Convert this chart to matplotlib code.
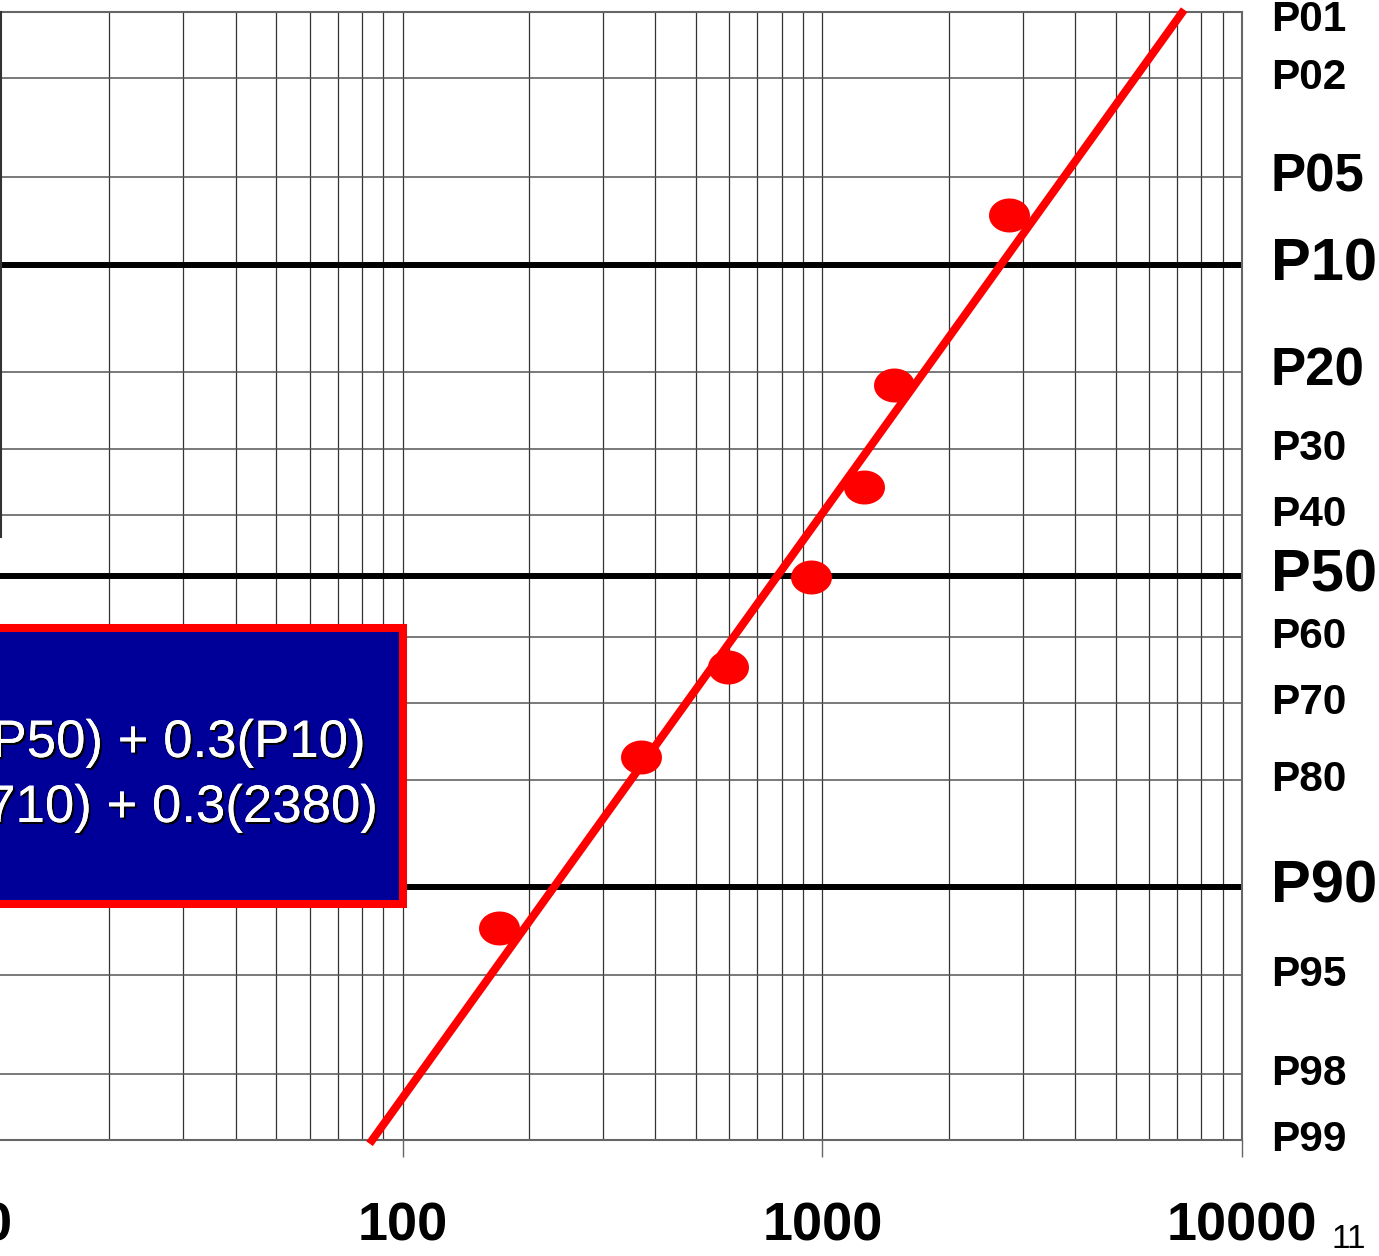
import matplotlib
matplotlib.use('Agg')
import matplotlib.pyplot as plt
import matplotlib.patches as patches
import matplotlib.patheffects as pe
from matplotlib.path import Path
from statistics import NormalDist
import numpy as np

plt.rcParams['font.family'] = ['Liberation Sans', 'DejaVu Sans']

# data
pt_prob = [6.8, 21.6, 35.7, 50.2, 64.6, 77.2, 92.7]
pt_value = [2790, 1480, 1260, 940, 595, 370, 170]
fit_prob = [99.04, 0.975]
fit_value = [83.4, 7280]

levels = [1, 2, 5, 10, 20, 30, 40, 50, 60, 70, 80, 90, 95, 98, 99]
level_labels = ['P01', 'P02', 'P05', 'P10', 'P20', 'P30', 'P40', 'P50',
                'P60', 'P70', 'P80', 'P90', 'P95', 'P98', 'P99']
thick_levels = [10, 50, 90]
medium_levels = [5, 20]
x_major = [10, 100, 1000, 10000]

box_lines = ['Mean = 0.3(P90) + 0.4(P50) + 0.3(P10)',
             'Mean = 0.3(150) + 0.4(710) + 0.3(2380)']

nd = NormalDist()

def z(p):
    return nd.inv_cdf(1 - p / 100.0)

def zs(ps):
    return [z(p) for p in ps]

W, H = 1379, 1256
fig = plt.figure(figsize=(W / 100, H / 100), dpi=100)
ax = fig.add_axes([-17 / W, 116 / H, 1259 / W, 1128 / H])
ax.set_xscale('log')
ax.set_xlim(10, 10000)
ax.set_ylim(z(99), z(1))

# vertical grid
for dec in [10, 100, 1000]:
    for k in range(1, 10):
        ax.axvline(dec * k, color='#333333', lw=0.9, zorder=1)

# horizontal grid
for lv in levels:
    if lv in thick_levels:
        ax.axhline(z(lv), color='black', lw=4.3, zorder=2, solid_capstyle='butt')
    else:
        ax.axhline(z(lv), color='#555555', lw=1.1, zorder=1)

# right labels
for lv, lab in zip(levels, level_labels):
    if lv in thick_levels:
        fs = 43
    elif lv in medium_levels:
        fs = 38
    else:
        fs = 30.5
    off = -8 if lv == 1 else 0
    ax.annotate(lab, xy=(1.0230, z(lv)), xycoords=('axes fraction', 'data'),
                xytext=(0, off), textcoords='offset pixels',
                ha='left', va='center', fontsize=fs, fontweight='bold',
                annotation_clip=False)

# fitted line and points
ax.plot(fit_value, zs(fit_prob), color='red', lw=5.8, zorder=4, clip_on=False,
        solid_capstyle='butt')
t = np.linspace(0, 2 * np.pi, 60)
ell = Path(np.column_stack([np.cos(t), 0.83 * np.sin(t)]), closed=True)
ax.plot(pt_value, zs(pt_prob), linestyle='none', marker=ell, markersize=29.5,
        color='red', markeredgewidth=0, zorder=5)

# box
box = patches.Rectangle((-0.1, 0.2092), 0.4336, 0.2447, transform=ax.transAxes,
                        facecolor='#000099', edgecolor='red', lw=5.8,
                        zorder=6, clip_on=False)
ax.add_patch(box)
shadow = [pe.withSimplePatchShadow(offset=(1.5, -1.5), shadow_rgbFace='black', alpha=1),
          pe.Normal()]
ax.text((365 + 17) / 1259, (1140 - 757) / 1128, box_lines[0], transform=ax.transAxes,
        ha='right', va='baseline', fontsize=38, color='white', zorder=7,
        path_effects=shadow)
ax.text((377 + 17) / 1259, (1140 - 822) / 1128, box_lines[1], transform=ax.transAxes,
        ha='right', va='baseline', fontsize=38, color='white', zorder=7,
        path_effects=shadow)

# axes styling
ax.set_xticks(x_major)
ax.set_xticklabels([str(v) for v in x_major], fontsize=39, fontweight='bold')
ax.xaxis.set_minor_locator(matplotlib.ticker.NullLocator())
ax.tick_params(axis='x', which='major', direction='out', length=12, width=1,
               color='#666666', pad=32)
ax.set_yticks([])
for s in ['top', 'bottom', 'right']:
    ax.spines[s].set_color('#666666')
    ax.spines[s].set_linewidth(1.5)
ax.spines['left'].set_visible(False)

# stray axis at the left edge
ax2 = fig.add_axes([1 / W, (H - 537) / H, 1e-4, 525 / H])
ax2.set_ylim(0, 525 / 62)
ax2.set_yticks(range(1, 8))
ax2.set_yticklabels([])
ax2.set_xticks([])
for s in ['top', 'bottom', 'right']:
    ax2.spines[s].set_visible(False)
ax2.spines['left'].set_color('#333333')
ax2.spines['left'].set_linewidth(1.5)
ax2.tick_params(axis='y', length=2, width=1.5, color='#222222')
ax2.patch.set_visible(False)

fig.text(1332 / W, 1 - 1248 / H, '11', fontsize=24, ha='left', va='baseline')

fig.savefig('out.png', dpi=100)
